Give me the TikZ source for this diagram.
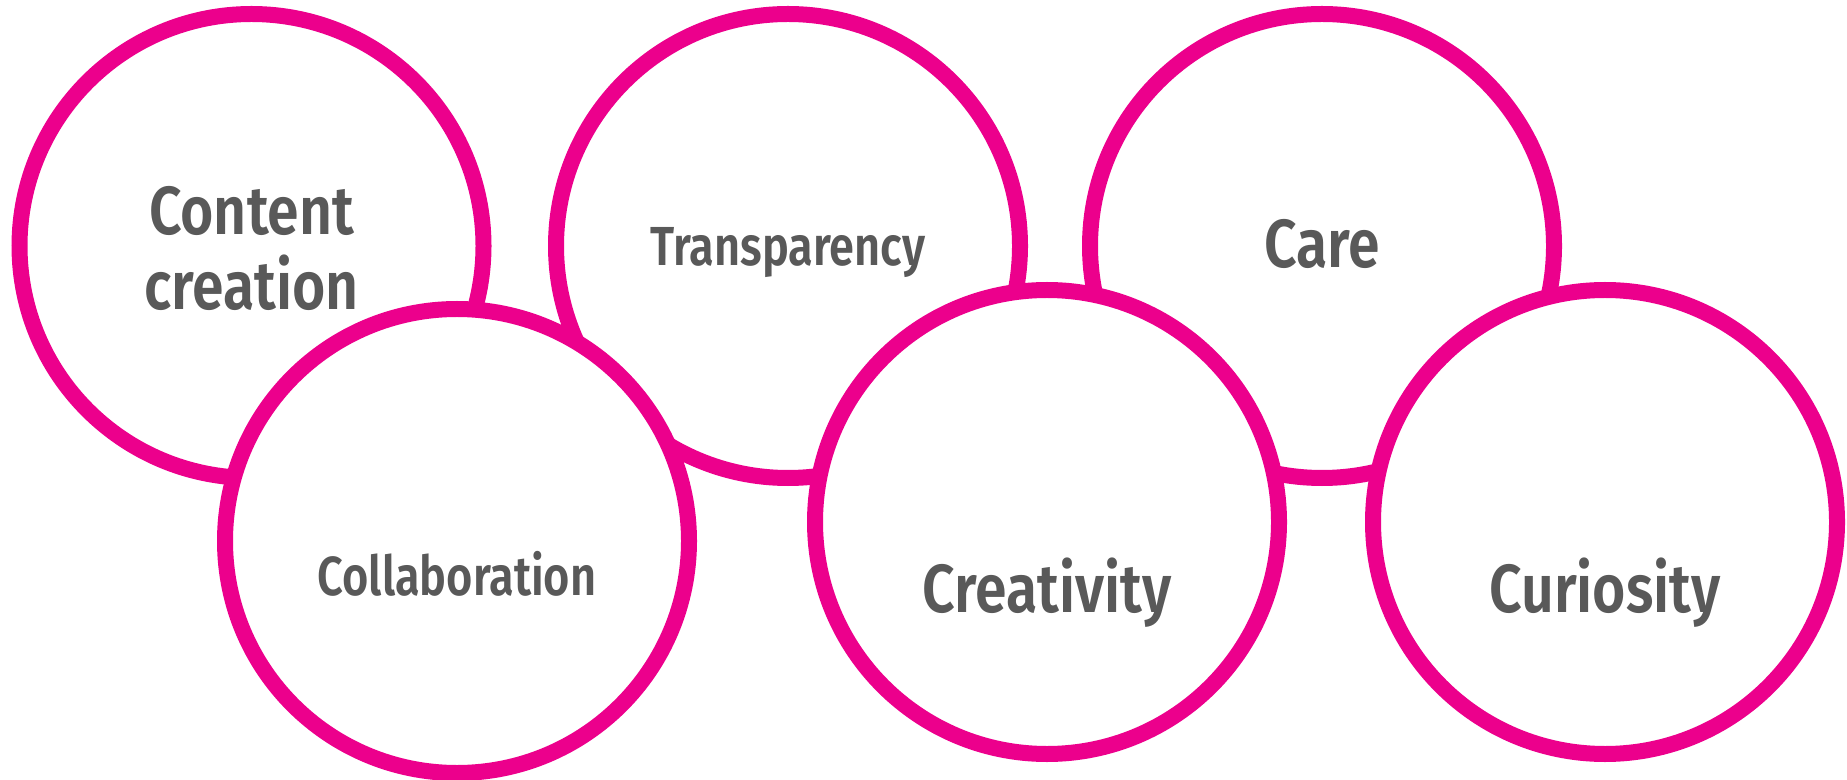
\documentclass[tikz,border=0pt]{standalone}
\usepackage{fontspec}
\setmainfont{Fira Sans}
\newfontfamily\valuebig{Fira Sans SemiBold}[FakeStretch=0.84]
\newfontfamily\valuesmall{Fira Sans SemiBold}[FakeStretch=0.82]
\begin{document}
\begin{tikzpicture}[x=0.5pt,y=-0.5pt,
    ring/.style={shape=circle,draw=values_ring,fill=white,line width=8pt,minimum size=232pt,inner sep=0pt},
    bigword/.style={text=values_text,align=center,font=\valuebig\fontsize{34pt}{37.5pt}\selectfont},
    smallword/.style={text=values_text,font=\valuesmall\fontsize{27.5pt}{30pt}\selectfont}]
    \definecolor{values_ring}{RGB}{236,0,140}
    \definecolor{values_text}{RGB}{89,89,89}
    \useasboundingbox (0,0) rectangle (1847,780);
    % top row
    \node[ring] (content) at (251.5,246) {};
    \node[ring] (transparency) at (788,246) {};
    \node[ring] (care) at (1322,246) {};
    \node[bigword] (contentword) at (251.5,248) {Content\\creation};
    \node[smallword,anchor=base] (transparencyword) at (788,266) {Transparency};
    \node[bigword,anchor=base] (careword) at (1322,268) {Care};
    % bottom row, drawn over the top row
    \node[ring] (collaboration) at (457,541) {};
    \node[ring] (creativity) at (1047,522) {};
    \node[ring] (curiosity) at (1605,522) {};
    \node[smallword,anchor=base] (collaborationword) at (457,595) {Collaboration};
    \node[bigword,anchor=base] (creativityword) at (1047,612) {Creativity};
    \node[bigword,anchor=base] (curiosityword) at (1605,612) {Curiosity};
\end{tikzpicture}
\end{document}
